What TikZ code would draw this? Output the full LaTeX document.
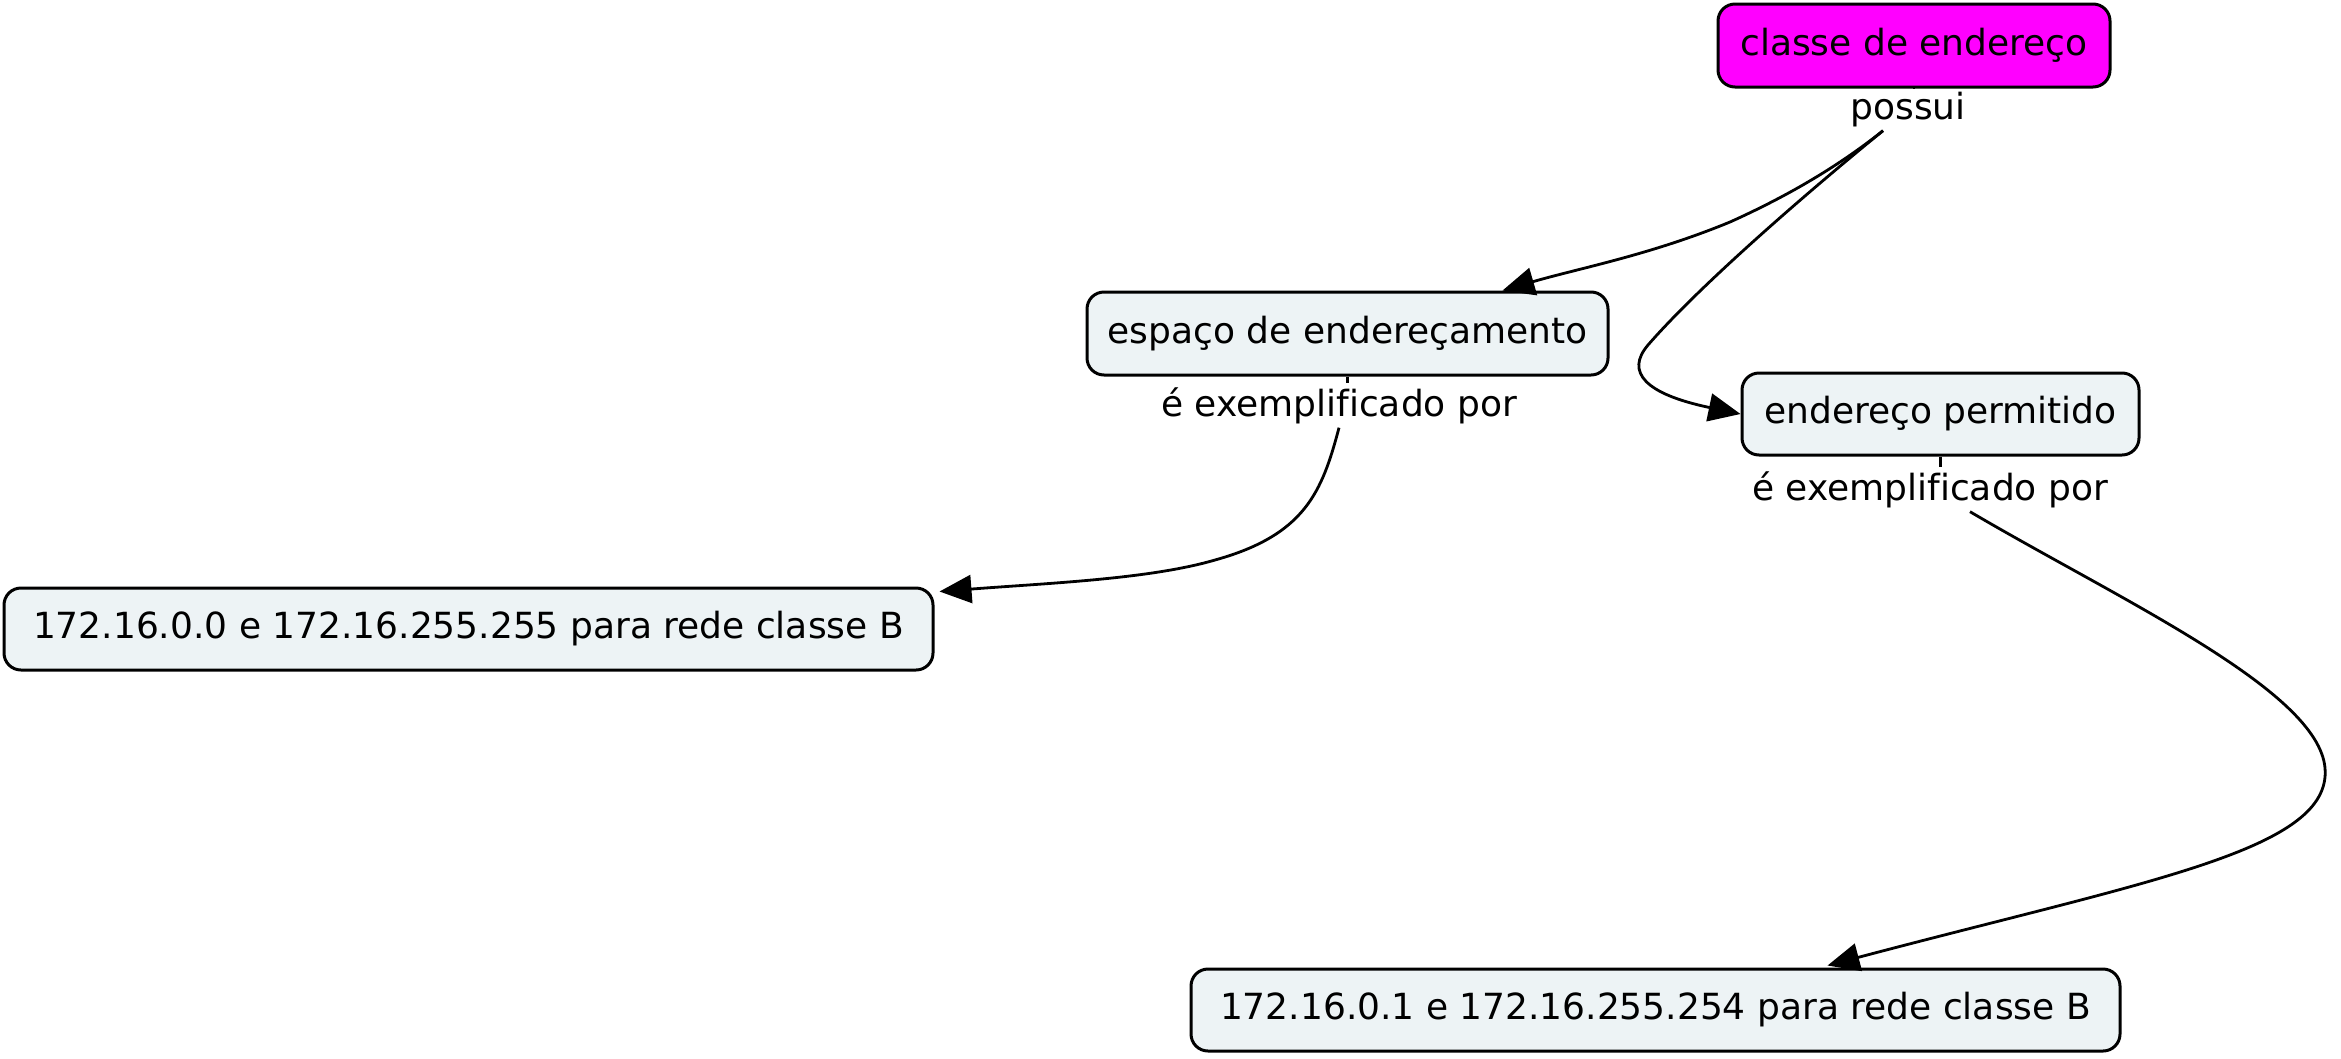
\documentclass[tikz,border=0pt]{standalone}
\usepackage{fontspec}
\setmainfont[Ligatures=NoCommon]{DejaVu Sans}
\usetikzlibrary{arrows.meta}
\definecolor{cfill}{RGB}{237,243,245}
\definecolor{mag}{RGB}{255,0,255}
\begin{document}
\begin{tikzpicture}[x=1pt,y=-1pt,
  concept/.style={draw, line width=3pt, rounded corners=17pt, fill=cfill,
    minimum height=82pt, inner sep=0pt, font=\fontsize{36}{42}\selectfont},
  phrase/.style={inner sep=4pt, font=\fontsize{36}{42}\selectfont, anchor=base},
  link/.style={line width=2.8pt, -{Triangle[length=32pt,width=28pt]}},
  tickline/.style={line width=2.8pt}]
\useasboundingbox (0,0) rectangle (2341,1058);

\node[concept, fill=mag, minimum width=392pt, minimum height=83pt] (classe) at (1914,45.5) {classe de endereço};
\node[concept, minimum width=521pt, minimum height=83pt] (espaco) at (1347.5,333.5) {espaço de endereçamento};
\node[concept, minimum width=397pt] (perm) at (1940.5,414) {endereço permitido};
\node[concept, minimum width=929pt] (bone) at (468.5,629) {172.16.0.0 e 172.16.255.255 para rede classe B};
\node[concept, minimum width=929pt] (btwo) at (1655.5,1010) {172.16.0.1 e 172.16.255.254 para rede classe B};

\node[phrase] (possui) at (1908,119) {possui};
\node[phrase] (exone) at (1339,416) {é exemplificado por};
\node[phrase] (extwo) at (1930,500) {é exemplificado por};

\draw[tickline] (classe.south) -- (classe.south |- possui.north);
\draw[tickline] (espaco.south) -- (espaco.south |- exone.north);
\draw[tickline] (perm.south) -- (perm.south |- extwo.north);

\coordinate (pA) at ([xshift=-25pt]possui.south);
\coordinate (eA) at ([xshift=155pt]espaco.north);
\coordinate (pC) at (exone.south);
\coordinate (eC) at ([xshift=5pt,yshift=-5pt]bone.north east);
\coordinate (pD) at ([xshift=40pt]extwo.south);
\coordinate (eD) at ([xshift=172pt,yshift=2pt]btwo.north);

\draw[link] (pA) .. controls (1840,165) and (1790,195) .. (1730,222)
  .. controls (1650,255) and (1580,268) .. (eA);
\draw[link] (pA) .. controls (1810,190) and (1700,285) .. (1648,345)
  .. controls (1625,372) and (1645,394) .. (perm.west);
\draw[link] (pC) .. controls (1322,492) and (1305,535) .. (1215,560)
  .. controls (1150,579) and (1050,583) .. (eC);
\draw[link] (pD) .. controls (2120,600) and (2318,690) .. (2325,768)
  .. controls (2332,850) and (2150,880) .. (eD);
\end{tikzpicture}
\end{document}
